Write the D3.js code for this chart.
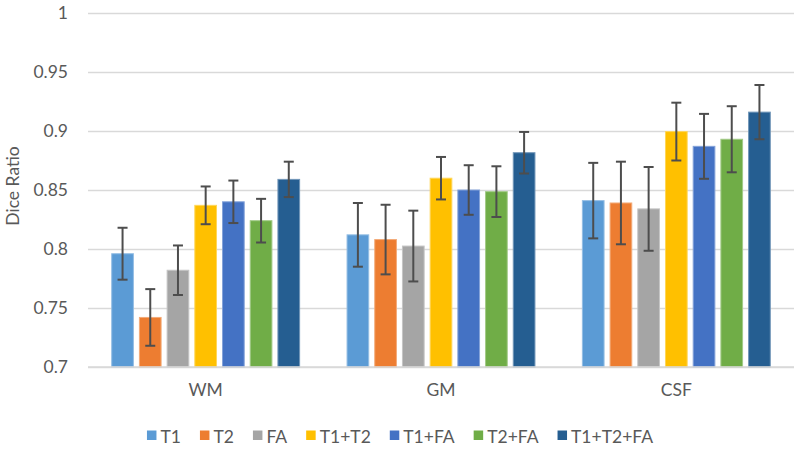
<!DOCTYPE html>
<html>
<head>
<meta charset="utf-8">
<script src="https://cdn.jsdelivr.net/npm/d3@7"></script>
<style>
  html, body { margin: 0; padding: 0; background: #fff; }
  svg { display: block; font-family: Lato, "Open Sans", sans-serif; }
</style>
</head>
<body>
<svg id="chart" width="800" height="451"></svg>
<script>
// ---- data ----
const categories = ["WM", "GM", "CSF"];
const seriesNames = ["T1", "T2", "FA", "T1+T2", "T1+FA", "T2+FA", "T1+T2+FA"];
const seriesColors = ["#5B9BD5", "#ED7D31", "#A5A5A5", "#FFC000", "#4472C4", "#70AD47", "#255E91"];

// mean Dice ratio per category (WM, GM, CSF)
const meanT1     = [0.796, 0.812, 0.841];
const meanT2     = [0.742, 0.808, 0.839];
const meanFA     = [0.782, 0.8025, 0.834];
const meanT1T2   = [0.837, 0.860, 0.8995];
const meanT1FA   = [0.840, 0.850, 0.887];
const meanT2FA   = [0.824, 0.8486, 0.893];
const meanT1T2FA = [0.859, 0.8816, 0.916];

// error bar half-lengths (standard deviation)
const sdT1     = [0.022, 0.027, 0.032];
const sdT2     = [0.024, 0.0295, 0.035];
const sdFA     = [0.021, 0.030, 0.0355];
const sdT1T2   = [0.016, 0.018, 0.0245];
const sdT1FA   = [0.018, 0.021, 0.0275];
const sdT2FA   = [0.0185, 0.0215, 0.028];
const sdT1T2FA = [0.015, 0.0176, 0.023];

const yTickValues = [0.7, 0.75, 0.8, 0.85, 0.9, 0.95, 1];
const yTickLabels = ["0.7", "0.75", "0.8", "0.85", "0.9", "0.95", "1"];
const yTitle = "Dice Ratio";

const means = [meanT1, meanT2, meanFA, meanT1T2, meanT1FA, meanT2FA, meanT1T2FA];
const sds = [sdT1, sdT2, sdFA, sdT1T2, sdT1FA, sdT2FA, sdT1T2FA];

const rows = [];
categories.forEach((c, ci) => {
  seriesNames.forEach((s, si) => {
    rows.push({ cat: c, series: s, color: seriesColors[si], v: means[si][ci], sd: sds[si][ci] });
  });
});

// ---- layout ----
const svg = d3.select("#chart");
const plotLeft = 88, plotRight = 794, plotTop = 13, plotBottom = 367;
const fontSize = 17.5;
const textColor = "#595959";
const gridColor = "#D9D9D9";

const y = d3.scaleLinear().domain([0.7, 1]).range([plotBottom, plotTop]);
const x0 = d3.scaleBand().domain(categories).range([plotLeft, plotRight]).paddingInner(0).paddingOuter(0);
const x1 = d3.scaleBand().domain(seriesNames).range([0, x0.bandwidth()]).paddingInner(0.217).paddingOuter(0.856);

// y axis with gridlines
const yAxis = d3.axisLeft(y)
  .tickValues(yTickValues)
  .tickFormat((d, i) => yTickLabels[i])
  .tickSize(-(plotRight - plotLeft))
  .tickPadding(20);

const gy = svg.append("g").attr("transform", `translate(${plotLeft},0)`).call(yAxis);
gy.select(".domain").remove();
gy.selectAll(".tick line").attr("stroke", gridColor).attr("stroke-width", 1.5);
gy.selectAll(".tick text")
  .attr("fill", textColor)
  .attr("font-size", fontSize)
  .attr("font-family", "Lato, 'Open Sans', sans-serif");

// x axis labels
const xAxis = d3.axisBottom(x0).tickSize(0).tickPadding(17);
const gx = svg.append("g").attr("transform", `translate(0,${plotBottom})`).call(xAxis);
gx.select(".domain").remove();
gx.selectAll(".tick text")
  .attr("fill", textColor)
  .attr("font-size", fontSize)
  .attr("font-family", "Lato, 'Open Sans', sans-serif");

// bars
const bars = svg.append("g");
bars.selectAll("rect")
  .data(rows)
  .join("rect")
  .attr("x", d => x0(d.cat) + x1(d.series))
  .attr("width", x1.bandwidth())
  .attr("y", d => y(d.v))
  .attr("height", d => y(0.7) - y(d.v))
  .attr("fill", d => d.color)
  .attr("stroke", d => d3.interpolateRgb(d.color, "#ffffff")(0.35))
  .attr("stroke-width", 1);

// baseline redraw (on top of bars)
svg.append("line")
  .attr("x1", plotLeft).attr("x2", plotRight)
  .attr("y1", y(0.7)).attr("y2", y(0.7))
  .attr("stroke", gridColor).attr("stroke-width", 1.5);

// error bars
const errColor = "#4D4D4D";
const capHalf = 5;
const eg = svg.append("g").attr("stroke", errColor).attr("stroke-width", 2);
rows.forEach(d => {
  const cx = x0(d.cat) + x1(d.series) + x1.bandwidth() / 2;
  const yt = y(d.v + d.sd), yb = y(d.v - d.sd);
  eg.append("line").attr("x1", cx).attr("x2", cx).attr("y1", yt).attr("y2", yb);
  eg.append("line").attr("x1", cx - capHalf).attr("x2", cx + capHalf).attr("y1", yt).attr("y2", yt);
  eg.append("line").attr("x1", cx - capHalf).attr("x2", cx + capHalf).attr("y1", yb).attr("y2", yb);
});

// y axis title
svg.append("text")
  .attr("transform", `translate(19,${(plotTop + plotBottom) / 2 - 4}) rotate(-90)`)
  .attr("text-anchor", "middle")
  .attr("fill", textColor)
  .attr("font-size", fontSize)
  .text(yTitle);

// legend
const legend = svg.append("g");
const sq = 9.5, gapText = 4, gapItem = 19, legendBaseline = 443;
let cursor = 0;
seriesNames.forEach((s, i) => {
  const g = legend.append("g");
  g.append("rect")
    .attr("x", 0).attr("y", legendBaseline - 12.5)
    .attr("width", sq).attr("height", sq)
    .attr("fill", seriesColors[i]);
  const t = g.append("text")
    .attr("x", sq + gapText).attr("y", legendBaseline)
    .attr("fill", textColor)
    .attr("font-size", fontSize)
    .text(s);
  const w = sq + gapText + t.node().getComputedTextLength();
  g.attr("transform", `translate(${cursor},0)`);
  cursor += w + gapItem;
});
const totalW = cursor - gapItem;
legend.attr("transform", `translate(${400 - totalW / 2},0)`);
</script>
</body>
</html>
